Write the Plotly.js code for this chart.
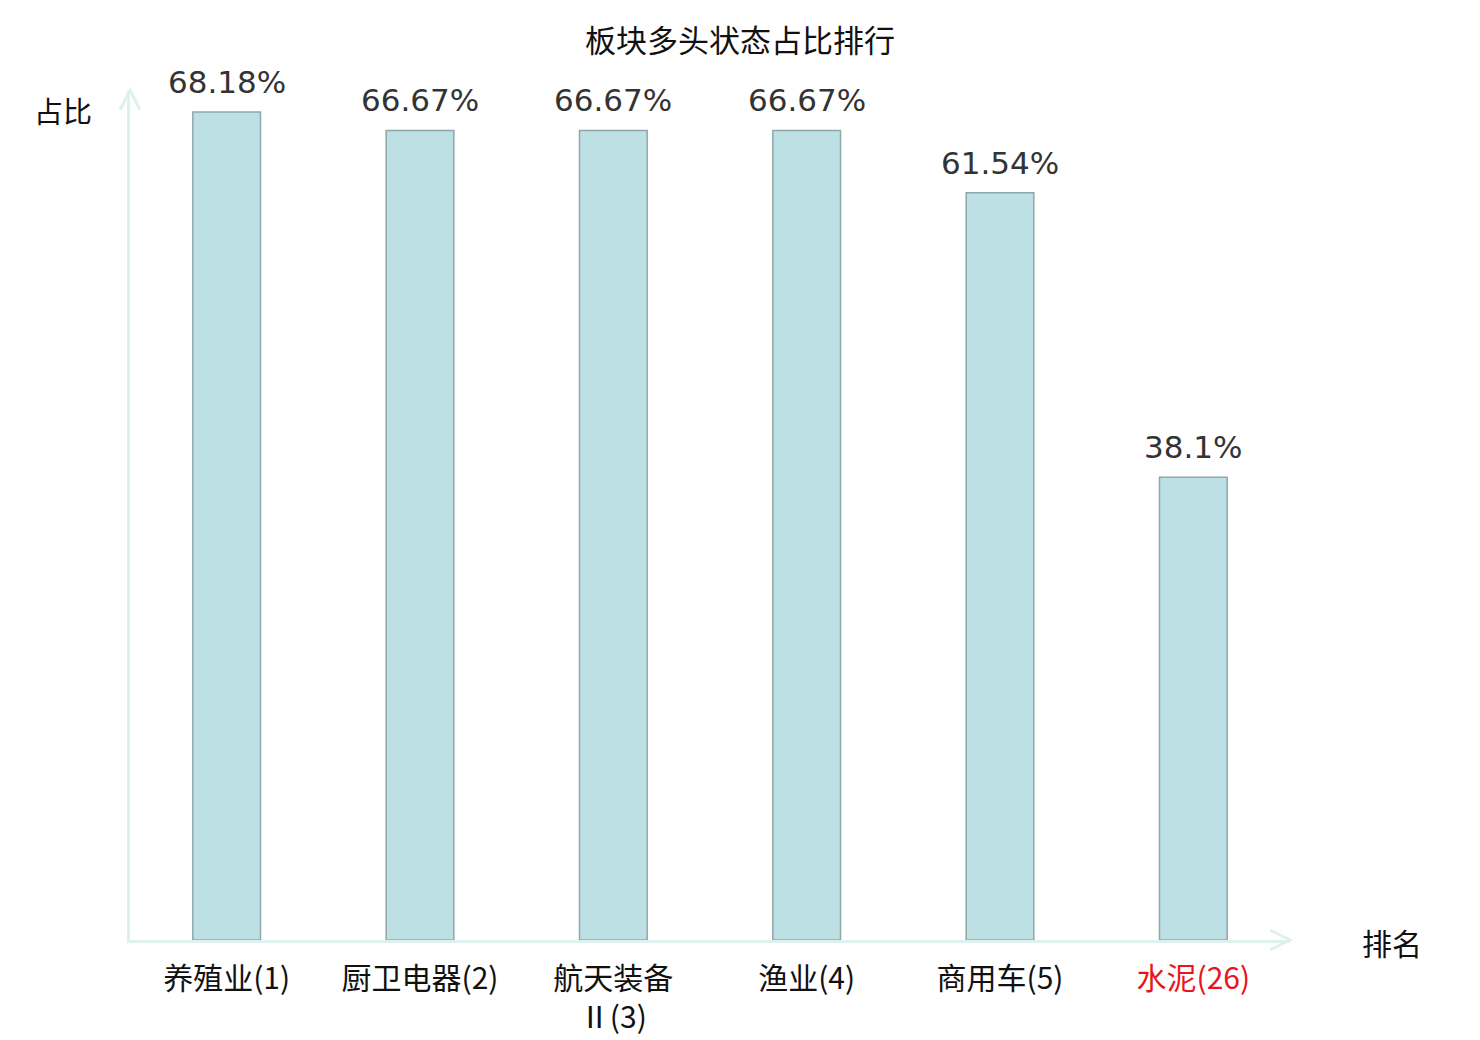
<!DOCTYPE html>
<html>
<head>
<meta charset="utf-8">
<script src="https://cdn.plot.ly/plotly-3.0.1.min.js"></script>
<style>
    body { margin: 0; background: #fff; }
    #chart { width: 1480px; height: 1040px; }
</style>
</head>
<body>
<div id="chart"></div>
<script>
'use strict';

// Chart data
let categories = ['养殖业(1)', '厨卫电器(2)', '航天装备Ⅱ(3)', '渔业(4)', '商用车(5)', '水泥(26)'];
let tickLabels = ['养殖业(1)', '厨卫电器(2)', '航天装备<br>Ⅱ(3)', '渔业(4)', '商用车(5)', '<span style="color:#e8161b">水泥(26)</span>'];
let ratios = [68.18, 66.67, 66.67, 66.67, 61.54, 38.1];
let valueLabels = ['68.18%', '66.67%', '66.67%', '66.67%', '61.54%', '38.1%'];

let axisColor = '#dff1ef';
let cjkFont = 'Noto Sans CJK SC, DejaVu Sans, sans-serif';

function chevron(xanchor, yanchor, path) {
    return {
        type: 'path',
        xref: 'paper',
        yref: 'paper',
        xsizemode: 'pixel',
        ysizemode: 'pixel',
        xanchor: xanchor,
        yanchor: yanchor,
        path: path,
        line: { color: axisColor, width: 3 },
        layer: 'below'
    };
}

// value labels sit a bit higher above the bars than plotly's own bar text
function valueAnnotations() {
    let arr = [];
    for (let i in categories) {
        arr.push({
            x: categories[i],
            y: ratios[i],
            xref: 'x',
            yref: 'y',
            text: valueLabels[i],
            showarrow: false,
            xanchor: 'center',
            yanchor: 'bottom',
            yshift: 10,
            font: { family: 'DejaVu Sans, sans-serif', size: 31, color: '#333333' }
        });
    }
    return arr;
}

function makePlot() {
    let trace = {
        x: categories,
        y: ratios,
        type: 'bar',
        width: 0.35,
        cliponaxis: false,
        marker: {
            color: '#bce0e3',
            line: { color: '#8ea8aa', width: 1.5 }
        },
        hoverinfo: 'none'
    };

    let annotations = valueAnnotations();
    annotations.push({
        text: '占比',
        xref: 'paper', yref: 'paper',
        x: 0, y: 1,
        xanchor: 'center', yanchor: 'middle',
        xshift: -67, yshift: -20,
        showarrow: false,
        font: { family: cjkFont, size: 29, color: '#111111' }
    });
    annotations.push({
        text: '排名',
        xref: 'paper', yref: 'paper',
        x: 1, y: 0,
        xanchor: 'center', yanchor: 'middle',
        xshift: 102, yshift: -2,
        showarrow: false,
        font: { family: cjkFont, size: 30, color: '#111111' }
    });

    let layout = {
        width: 1480,
        height: 1040,
        margin: { l: 130, r: 190, t: 90, b: 100 },
        paper_bgcolor: '#ffffff',
        plot_bgcolor: '#ffffff',
        showlegend: false,
        title: {
            text: '板块多头状态占比排行',
            font: { family: cjkFont, size: 31, color: '#111111' },
            x: 0.5,
            xanchor: 'center',
            y: 0.96,
            yanchor: 'middle'
        },
        xaxis: {
            type: 'category',
            tickmode: 'array',
            tickvals: categories,
            ticktext: tickLabels,
            range: [-0.5, 5.5],
            showgrid: false,
            zeroline: false,
            showline: true,
            linecolor: axisColor,
            linewidth: 3,
            ticks: '',
            ticklabelstandoff: 10,
            tickfont: { family: cjkFont, size: 30, color: '#111111' }
        },
        yaxis: {
            range: [0, 70],
            showgrid: false,
            zeroline: false,
            showline: true,
            linecolor: axisColor,
            linewidth: 3,
            ticks: '',
            showticklabels: false
        },
        shapes: [
            chevron(0, 1, 'M -10,-20 L 0,0 L 10,-20'),
            chevron(1, 0, 'M -20,10 L 0,0 L -20,-10')
        ],
        annotations: annotations
    };

    let config = {
        displayModeBar: false,
        staticPlot: true
    };

    Plotly.newPlot('chart', [trace], layout, config);
}

makePlot();
</script>
</body>
</html>
